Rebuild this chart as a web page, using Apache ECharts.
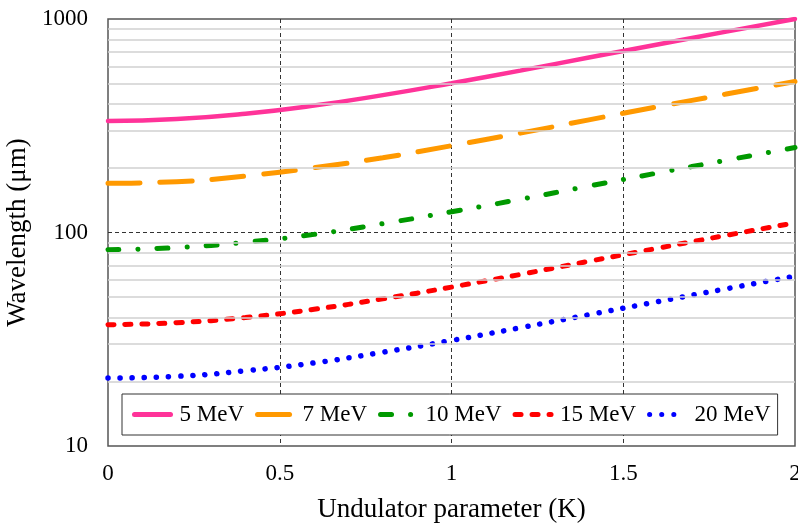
<!DOCTYPE html>
<html><head><meta charset="utf-8">
<script src="https://cdn.jsdelivr.net/npm/echarts@6/dist/echarts.min.js"></script>
<style>html,body{margin:0;padding:0;background:#fff}#c{width:798px;height:527px}</style>
</head><body><div id="c"></div>
<script>
const kValues = [0, 0.2, 0.4, 0.6, 0.8, 1.0, 1.2, 1.4, 1.6, 1.8, 2.0];
const mev5  = [333, 340, 360, 393, 440, 500, 573, 660, 760, 873, 1000];
const mev7  = [170, 173, 184, 201, 224, 255, 292, 337, 388, 445, 510];
const mev10 = [83, 85, 90, 98, 110, 125, 143, 165, 190, 218, 250];
const mev15 = [37, 37.8, 40, 43.7, 48.9, 55.5, 63.6, 73.3, 84.4, 97, 111];
const mev20 = [20.8, 21.2, 22.5, 24.5, 27.5, 31.2, 35.8, 41.2, 47.4, 54.5, 62.4];
const seriesNames = ['5 MeV', '7 MeV', '10 MeV', '15 MeV', '20 MeV'];
const minorGrid = [20,30,40,50,60,70,80,90,200,300,400,500,600,700,800,900];

const font = '"Liberation Serif", "Times New Roman", serif';
const pairs = arr => kValues.map((k, i) => [k, arr[i]]);
const styles = [
  {color:'#FF3399', type:'solid', width:4.5},
  {color:'#FF9900', type:[32,20], width:5},
  {color:'#009900', type:[11,19,0.1,19], width:5},
  {color:'#FF0000', type:[6,11], width:5},
  {color:'#0000FF', type:[0.1,12], width:5.5}
];
const datasets = [mev5, mev7, mev10, mev15, mev20];

const series = [{
  name: 'grid', type: 'line', data: pairs(mev5), symbol: 'none', silent: true,
  lineStyle: {opacity: 0}, z: 0,
  markLine: {silent: true, symbol: 'none', label: {show: false},
    lineStyle: {color: '#d0d0d0', type: 'solid', width: 1.5},
    data: minorGrid.map(v => ({yAxis: v}))}
}];
datasets.forEach((d, i) => series.push({
  name: seriesNames[i], type: 'line', data: pairs(d), smooth: true, symbol: 'none',
  color: styles[i].color,
  lineStyle: {color: styles[i].color, type: styles[i].type, width: styles[i].width, cap: 'round'},
  z: 3
}));

const chart = echarts.init(document.getElementById('c'));
chart.setOption({
  animation: false,
  backgroundColor: '#fff',
  grid: {left: 108, right: 3, top: 19, bottom: 81, show: true, borderColor: '#555', borderWidth: 1.5,
         containLabel: false, outerBoundsMode: 'none'},
  xAxis: {
    type: 'value', min: 0, max: 2, interval: 0.5,
    name: 'Undulator parameter (K)', nameLocation: 'middle', nameGap: 50,
    nameTextStyle: {fontFamily: font, fontSize: 27, color: '#000'},
    axisLine: {show: false}, axisTick: {show: false},
    axisLabel: {fontFamily: font, fontSize: 23, color: '#000', margin: 16, formatter: v => String(v)},
    splitLine: {show: true, showMinLine: false, showMaxLine: false,
                lineStyle: {color: '#333', type: [4,3], width: 1}}
  },
  yAxis: {
    type: 'log', logBase: 10, min: 10, max: 1000,
    name: 'Wavelength (μm)', nameLocation: 'middle', nameGap: 64,
    nameTextStyle: {fontFamily: font, fontSize: 27, color: '#000'},
    axisLine: {show: false}, axisTick: {show: false},
    axisLabel: {fontFamily: font, fontSize: 23, color: '#000', margin: 20, formatter: v => String(v)},
    splitLine: {show: true, showMinLine: false, showMaxLine: false,
                lineStyle: {color: '#333', type: [4,3], width: 1}}
  },
  legend: {
    data: seriesNames, left: 122, top: 394,
    orient: 'horizontal', itemWidth: 36, itemHeight: 14, itemGap: 11,
    padding: [9, 7, 9, 10],
    borderColor: '#333', borderWidth: 1, backgroundColor: '#fff',
    itemStyle: {opacity: 0},
    lineStyle: {width: 5, cap: 'round'},
    textStyle: {fontFamily: font, fontSize: 23, color: '#000', padding: [0, 0, 0, 4]}
  },
  series: series
});
</script></body></html>
